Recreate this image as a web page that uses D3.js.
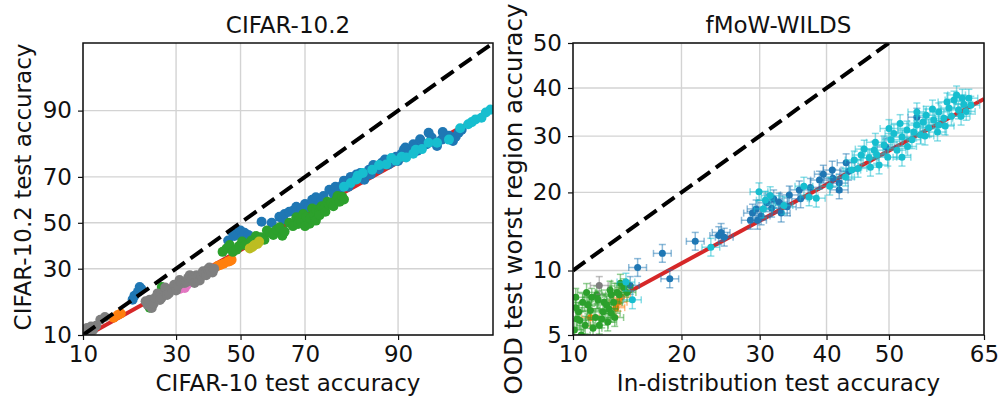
<!DOCTYPE html>
<html>
<head>
<meta charset="utf-8">
<script src="https://cdn.jsdelivr.net/npm/d3@7"></script>
<style>
  body { margin: 0; background: #fff; }
  svg text { font-family: "DejaVu Sans", sans-serif; fill: #111; }
</style>
</head>
<body>
<svg id="chart" width="1000" height="399"></svg>
<script>
// ---- data (accuracies in %) ----
const cifarTicks = [10, 30, 50, 70, 90];

const cifarGray = [[10.3,10.4],[10.6,11.5],[10.8,10.2],[11.2,11.8],[11.5,11.0],[12.0,12.0],[12.7,13.4],[13.5,14.1],
  [22.0,18.5],[22.5,17.4],[23.0,19.0],[23.5,16.5],[24.0,17.8],[24.3,19.5],[25.0,21.0],[25.6,20.2],[25.6,18.9],
  [26.0,19.5],[26.9,21.5],[27.0,23.0],[27.5,20.5],[28.0,21.0],[28.8,22.5],[29.5,24.0],[30.0,22.0],[30.5,23.5],
  [31.0,25.7],[31.5,24.5],[32.5,24.6],[33.0,25.0],[33.5,26.5],[34.0,27.5],[34.6,26.1],[35.4,24.6],[36.0,27.5],
  [36.4,26.8],[37.0,25.5],[37.5,27.2],[38.0,29.0],[38.5,28.0],[39.0,27.5],[39.5,29.8],[40.0,30.5],[40.7,29.2],
  [41.0,28.5],[41.5,30.0]];
const cifarOrange = [[15.1,13.9],[15.9,14.6],[16.5,15.0],[42.6,31.1],[43.5,31.5],[44.5,32.0],[45.8,32.8],[46.5,33.0],[47.1,33.6]];
const cifarGreen = [[23.0,16.6],[23.5,18.0],[26.1,23.2],[27.5,22.2],[44.2,37.0],[45.5,38.5],[46.5,40.0],[47.5,37.0],
  [48.7,37.9],[49.5,39.5],[50.5,41.5],[51.5,40.0],[52.9,40.9],[53.5,42.0],[55.0,44.0],[56.5,43.5],[57.7,42.3],
  [58.5,46.5],[59.5,45.5],[60.5,44.5],[61.5,46.8],[62.5,48.0],[63.3,44.1],[64.0,46.0],[65.4,50.0],[66.5,48.5],
  [67.5,52.5],[68.0,49.5],[68.4,51.4],[69.0,50.5],[69.5,54.0],[70.0,48.5],[70.4,52.7],[71.3,49.6],[71.5,52.0],
  [72.0,56.5],[72.5,53.6],[73.0,51.0],[73.1,55.9],[73.9,55.0],[74.0,53.5],[74.5,57.5],[75.2,56.8],[75.5,55.0],
  [76.0,59.5],[76.5,58.2],[77.0,59.0],[77.5,57.5],[78.2,60.4],[78.5,62.0],[79.0,59.5],[79.6,61.7],[80.0,60.5]];
const cifarPink = [[28.5,22.5],[29.1,23.2],[30.0,23.5],[31.0,22.5],[32.0,24.5],[32.5,22.8],[33.1,23.9]];
const cifarOlive = [[53.0,38.5],[53.9,39.2],[54.5,40.0],[55.5,40.5],[56.0,41.5]];
const cifarBlue = [[19.0,19.0],[19.4,20.2],[20.2,21.5],[20.6,23.2],[21.0,22.5],[46.0,42.0],[47.4,45.5],[48.0,44.0],
  [50.0,46.5],[50.6,43.7],[51.3,45.5],[52.5,44.5],[56.8,50.5],[60.0,50.0],[62.4,52.7],[63.5,51.5],[64.0,54.0],
  [65.4,55.0],[66.5,55.5],[67.5,57.3],[68.4,54.5],[69.0,56.5],[70.0,58.5],[71.0,57.0],[72.0,60.4],[73.0,61.5],
  [73.9,58.2],[74.5,60.0],[75.0,62.0],[76.5,64.7],[77.5,63.0],[78.0,66.0],[78.9,64.7],[79.5,66.5],[80.0,68.5],
  [80.5,67.6],[81.0,66.0],[81.5,70.0],[82.7,70.9],[83.5,71.5],[84.0,70.0],[84.3,68.9],[85.2,72.8],[85.5,71.0],
  [86.0,74.5],[86.5,73.5],[87.0,73.0],[87.5,75.4],[88.0,76.5],[88.6,74.7],[89.0,75.5],[89.7,77.5],[90.0,76.0],
  [90.5,78.5],[90.8,79.8],[91.0,80.5],[91.5,78.8],[92.0,81.5],[92.5,79.5],[92.8,83.0],[93.0,80.8],[93.5,81.5],
  [93.7,84.8],[94.0,83.5],[94.5,81.0],[94.9,82.9],[95.0,85.0],[95.5,84.0],[95.8,82.5],[96.0,83.7],[96.2,84.8],[96.4,85.6]];
const cifarCyan = [[80.0,66.0],[81.5,67.5],[82.7,69.0],[83.0,70.5],[84.0,71.5],[85.8,72.8],[87.0,74.5],[88.2,74.7],
  [89.0,77.0],[89.7,76.1],[90.5,77.5],[91.1,77.2],[92.0,78.5],[92.3,79.8],[93.0,80.0],[93.7,82.0],[94.5,82.0],
  [95.5,82.9],[96.3,86.0],[96.8,87.0],[97.0,87.5],[97.2,88.1],[97.5,88.5],[97.7,89.6],[97.9,90.2]];
const cifarFit = [[10.7,10.0],[98,90.2]];
const cifarDiag = [[10,10],[98,98]];

const wildsXTicks = [10, 20, 30, 40, 50, 65];
const wildsYTicks = [5, 10, 20, 30, 40, 50];

const wildsGreen = [[10.1,5.3],[10.2,7.6],[10.2,6.8],[10.3,6.0],[10.4,6.5],[10.5,5.9],[10.6,5.0],[10.7,7.2],[10.9,5.6],
  [11.0,8.0],[11.1,7.0],[11.3,6.6],[11.4,7.6],[11.5,5.4],[11.7,6.1],[11.8,7.8],[11.9,7.4],[12.0,5.6],[12.2,6.0],
  [12.3,6.5],[12.4,7.2],[12.6,7.0],[12.7,5.8],[12.8,6.7],[12.9,8.2],[13.0,7.8],[13.0,6.4],[13.2,7.2],[13.3,6.1],
  [13.5,8.0],[13.7,7.8],[13.8,8.8],[14.1,8.4],[14.4,8.0]];
const wildsOrange = [[11.3,6.1],[13.4,6.8],[13.6,7.2],[13.9,7.6]];
const wildsGray = [[12.0,8.6]];
const wildsCyan = [[14.3,8.9],[14.9,7.4],[23.5,12.5],[29.9,20.1],[30.5,17.5],[30.8,18.8],[31.5,19.5],[33.5,18.0],
  [36.5,21.0],[37.3,19.3],[38.4,19.1],[40.5,21.0],[43.0,22.5],[44.0,23.7],[44.4,25.5],[45.0,24.0],[45.5,26.4],
  [46.0,27.5],[46.8,25.9],[47.0,24.2],[47.6,27.3],[47.8,28.8],[48.0,26.5],[48.4,24.6],[49.2,28.3],[49.8,26.0],
  [50.0,31.5],[50.3,29.3],[50.8,30.5],[51.3,27.3],[51.8,32.5],[52.1,29.8],[52.1,26.0],[52.9,31.2],[53.0,28.0],
  [53.7,29.3],[54.0,30.8],[54.5,32.2],[54.5,34.9],[55.1,30.2],[55.5,32.8],[55.8,30.0],[56.0,34.2],[56.4,31.6],
  [57.0,35.5],[57.2,33.2],[57.8,30.8],[58.0,34.9],[58.0,32.2],[58.8,33.6],[59.0,32.0],[59.3,37.0],[59.6,35.7],
  [60.0,34.0],[60.4,37.4],[60.8,38.5],[61.1,35.3],[61.5,34.0],[61.7,37.8],[61.9,36.5],[62.3,35.0],[62.7,37.8],[63.0,36.3]];
const wildsBlue = [[14.7,8.6],[15.4,10.3],[17.9,11.8],[18.7,9.2],[21.6,13.2],[24.5,13.9],[24.8,14.3],[25.2,13.7],
  [28.7,15.9],[29.0,16.9],[29.5,17.5],[29.7,15.9],[30.2,16.5],[31.0,18.4],[31.7,17.6],[32.0,19.0],[32.8,18.5],
  [33.1,16.9],[34.0,17.8],[34.3,19.6],[35.8,20.4],[36.0,19.0],[37.5,20.8],[38.9,22.0],[39.5,23.0],[40.9,23.7],
  [41.0,22.3],[42.0,21.5],[42.0,20.4],[43.1,25.0],[43.5,23.5],[49.5,27.9],[54.5,33.8]];
const wildsFit = [[14.4,7.96],[65,37.6]];
const wildsDiag = [[10,10],[50,50]];

// inverse normal CDF (Acklam), input in %
function probit(v) {
  const p = v / 100;
  const a = [-3.969683028665376e+01, 2.209460984245205e+02, -2.759285104469687e+02, 1.383577518672690e+02, -3.066479806614716e+01, 2.506628277459239e+00];
  const b = [-5.447609879822406e+01, 1.615858368580409e+02, -1.556989798598866e+02, 6.680131188771972e+01, -1.328068155288572e+01];
  const c = [-7.784894002430293e-03, -3.223964580411365e-01, -2.400758277161838e+00, -2.549671010173563e+00, 4.374664141464968e+00, 2.938163982698783e+00];
  const d = [7.784695709041462e-03, 3.224671290700398e-01, 2.445134137142996e+00, 3.754408661907416e+00];
  const pl = 0.02425;
  if (p < pl) {
    const q = Math.sqrt(-2 * Math.log(p));
    return (((((c[0]*q+c[1])*q+c[2])*q+c[3])*q+c[4])*q+c[5]) / ((((d[0]*q+d[1])*q+d[2])*q+d[3])*q+1);
  }
  if (p > 1 - pl) {
    const q = Math.sqrt(-2 * Math.log(1 - p));
    return -(((((c[0]*q+c[1])*q+c[2])*q+c[3])*q+c[4])*q+c[5]) / ((((d[0]*q+d[1])*q+d[2])*q+d[3])*q+1);
  }
  const q = p - 0.5, r = q * q;
  return (((((a[0]*r+a[1])*r+a[2])*r+a[3])*r+a[4])*r+a[5])*q / (((((b[0]*r+b[1])*r+b[2])*r+b[3])*r+b[4])*r+1);
}

const svg = d3.select('#chart');
const FONT = 23;

function drawPanel(cfg) {
  const { left, right, top, bottom } = cfg.box;
  const xs = d3.scaleLinear().domain(cfg.xDomain.map(probit)).range([left, right]);
  const ys = d3.scaleLinear().domain(cfg.yDomain.map(probit)).range([bottom, top]);
  const X = v => xs(probit(v));
  const Y = v => ys(probit(v));

  const g = svg.append('g');
  const clipId = 'clip-' + cfg.id;
  g.append('clipPath').attr('id', clipId)
    .append('rect').attr('x', left).attr('y', top).attr('width', right - left).attr('height', bottom - top);

  // grid
  g.append('g').selectAll('line').data(cfg.xTicks).join('line')
    .attr('x1', d => X(d)).attr('x2', d => X(d)).attr('y1', top).attr('y2', bottom)
    .attr('stroke', '#d3d3d3').attr('stroke-width', 1.4);
  g.append('g').selectAll('line').data(cfg.yTicks).join('line')
    .attr('y1', d => Y(d)).attr('y2', d => Y(d)).attr('x1', left).attr('x2', right)
    .attr('stroke', '#d3d3d3').attr('stroke-width', 1.4);

  const plot = g.append('g').attr('clip-path', `url(#${clipId})`);
  const line = d3.line().x(d => X(d[0])).y(d => Y(d[1]));

  // fit line (under the points)
  plot.append('path').datum(cfg.fit).attr('d', line)
    .attr('fill', 'none').attr('stroke', '#d62728').attr('stroke-width', 4);

  // points with error bars (error given in probit units)
  cfg.groups.forEach(grp => {
    const pts = plot.append('g');
    const ex = cfg.errX, ey = cfg.errY, cap = cfg.cap;
    const eb = pts.append('g').attr('stroke', grp.color).attr('stroke-opacity', cfg.barOpacity).attr('stroke-width', 1.5);
    grp.data.forEach(d => {
      const px = X(d[0]), py = Y(d[1]);
      const xl = xs(probit(d[0]) - ex), xr = xs(probit(d[0]) + ex);
      const yt = ys(probit(d[1]) + ey), yb = ys(probit(d[1]) - ey);
      eb.append('line').attr('x1', xl).attr('x2', xr).attr('y1', py).attr('y2', py);
      eb.append('line').attr('x1', px).attr('x2', px).attr('y1', yt).attr('y2', yb);
      if (cap > 0) {
        eb.append('line').attr('x1', xl).attr('x2', xl).attr('y1', py - cap).attr('y2', py + cap);
        eb.append('line').attr('x1', xr).attr('x2', xr).attr('y1', py - cap).attr('y2', py + cap);
        eb.append('line').attr('x1', px - cap).attr('x2', px + cap).attr('y1', yt).attr('y2', yt);
        eb.append('line').attr('x1', px - cap).attr('x2', px + cap).attr('y1', yb).attr('y2', yb);
      }
    });
    pts.append('g').selectAll('circle').data(grp.data).join('circle')
      .attr('cx', d => X(d[0])).attr('cy', d => Y(d[1])).attr('r', cfg.r)
      .attr('fill', grp.color);
  });

  // y = x reference
  plot.append('path').datum(cfg.diag).attr('d', line)
    .attr('fill', 'none').attr('stroke', '#000').attr('stroke-width', 4)
    .attr('stroke-dasharray', '15,7');

  // axes
  const xAxis = d3.axisBottom(xs).tickValues(cfg.xTicks.map(probit))
    .tickFormat((d, i) => cfg.xTicks[i]).tickSize(5).tickPadding(6);
  const yAxis = d3.axisLeft(ys).tickValues(cfg.yTicks.map(probit))
    .tickFormat((d, i) => cfg.yTicks[i]).tickSize(5).tickPadding(6);
  const ax = g.append('g').attr('transform', `translate(0,${bottom})`).call(xAxis);
  const ay = g.append('g').attr('transform', `translate(${left},0)`).call(yAxis);
  [ax, ay].forEach(a => {
    a.select('.domain').remove();
    a.selectAll('.tick line').attr('stroke', '#111').attr('stroke-width', 1.2);
    a.selectAll('.tick text').style('font-size', FONT + 'px').attr('fill', '#111')
      .style('font-family', '"DejaVu Sans", sans-serif');
  });

  // spines
  g.append('rect').attr('x', left).attr('y', top).attr('width', right - left).attr('height', bottom - top)
    .attr('fill', 'none').attr('stroke', '#111').attr('stroke-width', 1.5);

  // labels
  const cx = (left + right) / 2;
  g.append('text').attr('x', cx).attr('y', 33).attr('text-anchor', 'middle')
    .style('font-size', FONT + 'px').text(cfg.title);
  g.append('text').attr('x', cx).attr('y', 391).attr('text-anchor', 'middle')
    .style('font-size', FONT + 'px').text(cfg.xLabel);
  g.append('text').attr('transform', `translate(${cfg.yLabelX},${cfg.yLabelY}) rotate(-90)`)
    .attr('text-anchor', 'middle').style('font-size', cfg.yLabelSize + 'px').text(cfg.yLabel);
}

drawPanel({
  id: 'cifar',
  box: { left: 83, right: 493, top: 43, bottom: 335 },
  xDomain: [10, 98], yDomain: [10, 98],
  xTicks: cifarTicks, yTicks: cifarTicks,
  r: 5, errX: 0.025, errY: 0.035, cap: 0, barOpacity: 0.7,
  groups: [
    { color: '#1f77b4', data: cifarBlue },
    { color: '#ff7f0e', data: cifarOrange },
    { color: '#2ca02c', data: cifarGreen },
    { color: '#e377c2', data: cifarPink },
    { color: '#7f7f7f', data: cifarGray },
    { color: '#bcbd22', data: cifarOlive },
    { color: '#17becf', data: cifarCyan }
  ],
  fit: cifarFit, diag: cifarDiag,
  title: 'CIFAR-10.2', xLabel: 'CIFAR-10 test accuracy', yLabel: 'CIFAR-10.2 test accuracy',
  yLabelX: 31, yLabelY: 187, yLabelSize: FONT
});

drawPanel({
  id: 'wilds',
  box: { left: 573, right: 984, top: 43, bottom: 335 },
  xDomain: [10, 65], yDomain: [5, 50],
  xTicks: wildsXTicks, yTicks: wildsYTicks,
  r: 3.5, errX: 0.036, errY: 0.05, cap: 3.5, barOpacity: 0.5,
  groups: [
    { color: '#1f77b4', data: wildsBlue },
    { color: '#ff7f0e', data: wildsOrange },
    { color: '#2ca02c', data: wildsGreen },
    { color: '#7f7f7f', data: wildsGray },
    { color: '#17becf', data: wildsCyan }
  ],
  fit: wildsFit, diag: wildsDiag,
  title: 'fMoW-WILDS', xLabel: 'In-distribution test accuracy', yLabel: 'OOD test worst region accuracy',
  yLabelX: 522, yLabelY: 199, yLabelSize: 24.5
});
</script>
</body>
</html>
